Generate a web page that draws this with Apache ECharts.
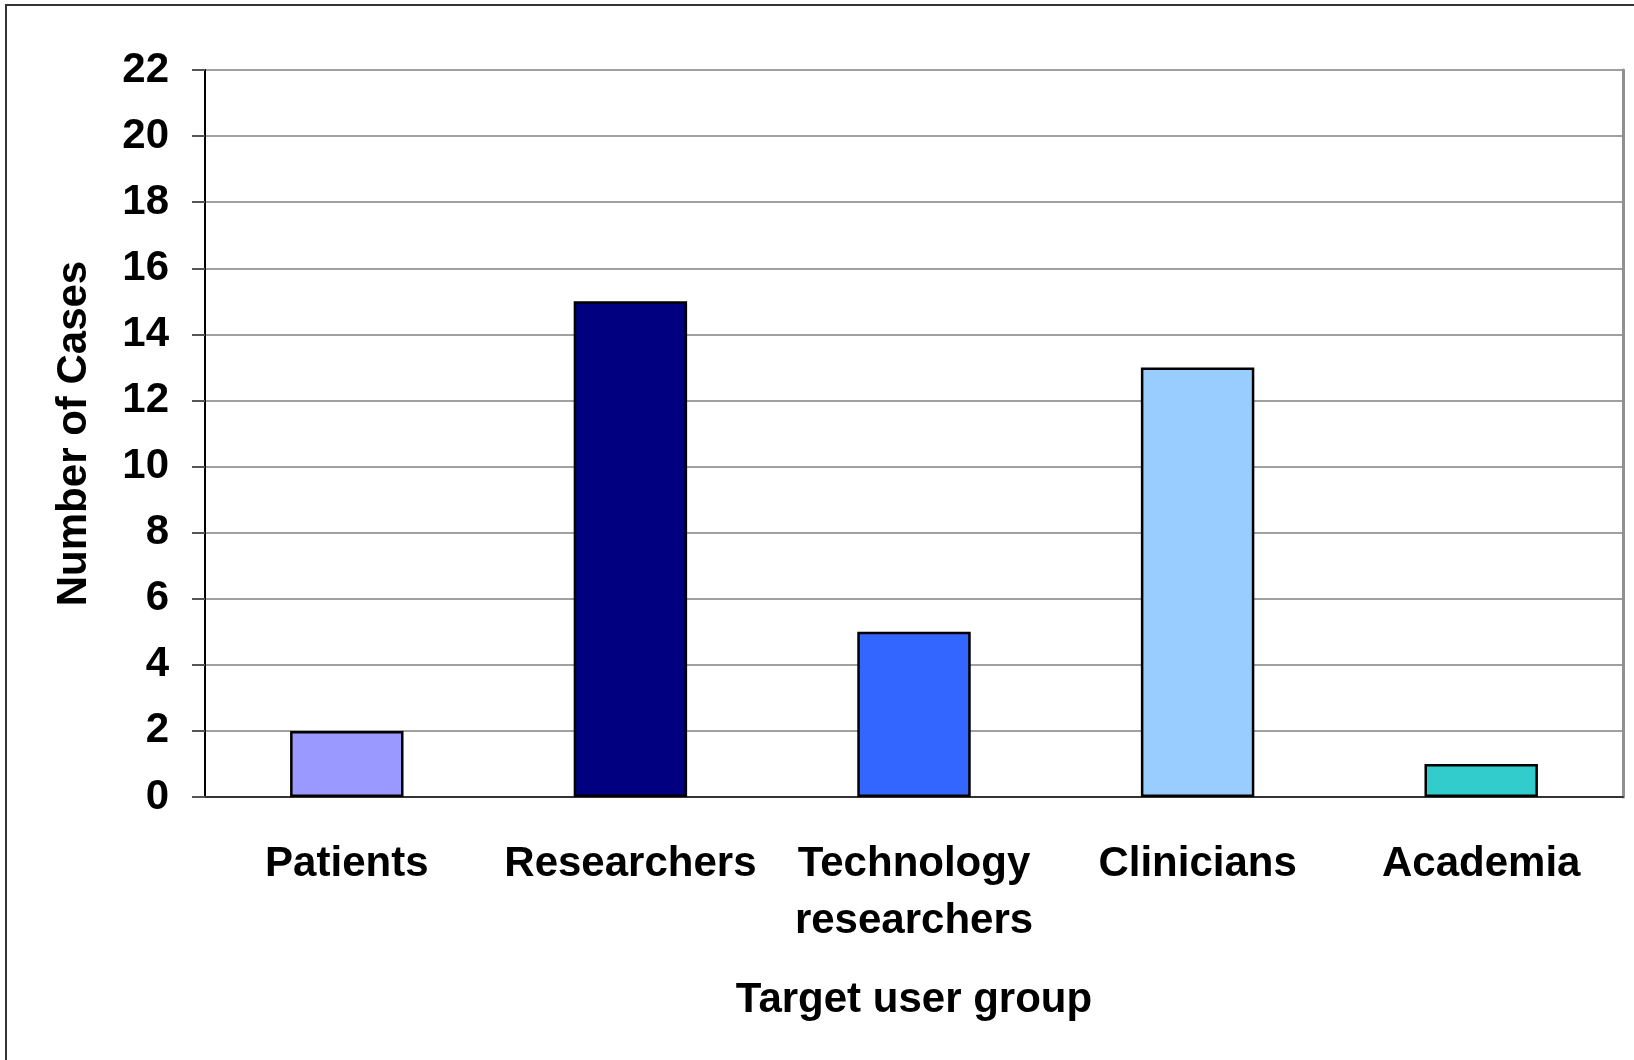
<!DOCTYPE html>
<html>
<head>
<meta charset="utf-8">
<script src="https://cdn.jsdelivr.net/npm/echarts@6/dist/echarts.min.js"></script>
<style>
  html, body { margin: 0; padding: 0; background: #ffffff; }
  #chart { width: 1634px; height: 1060px; }
</style>
</head>
<body>
<div id="chart"></div>
<script>
// data
const categories = ['Patients', 'Researchers', 'Technology\nresearchers', 'Clinicians', 'Academia'];
const cases = [2, 15, 5, 13, 1];
const barColors = ['#9999FF', '#000080', '#3366FF', '#99CCFF', '#33CCCC'];
const yTicks = { min: 0, max: 22, interval: 2 };

const chart = echarts.init(document.getElementById('chart'));
const font = '"Liberation Sans", Arial, sans-serif';

const option = {
    backgroundColor: '#ffffff',
    animation: false,
    graphic: [{
        type: 'rect',
        shape: { x: 6, y: 5, width: 1700, height: 1100 },
        style: { fill: 'none', stroke: '#333333', lineWidth: 2 },
        silent: true
    }],
    grid: {
        left: 205,
        right: 11,
        top: 70,
        bottom: 263
    },
    xAxis: {
        type: 'category',
        data: categories,
        name: 'Target user group',
        nameLocation: 'middle',
        nameGap: 182,
        nameTextStyle: { color: '#000', fontFamily: font, fontWeight: 'bold', fontSize: 42 },
        axisLine: { lineStyle: { color: '#333333', width: 2 } },
        axisTick: { length: 13, lineStyle: { color: '#808080', width: 2 } },
        axisLabel: {
            color: '#000', fontFamily: font, fontWeight: 'bold', fontSize: 42,
            lineHeight: 57, margin: 39, interval: 0
        }
    },
    yAxis: [{
        type: 'value',
        min: yTicks.min,
        max: yTicks.max,
        interval: yTicks.interval,
        name: 'Number of Cases',
        nameLocation: 'middle',
        nameGap: 110,
        nameTextStyle: { color: '#000', fontFamily: font, fontWeight: 'bold', fontSize: 42 },
        axisLine: { show: true, lineStyle: { color: '#000', width: 2 } },
        axisTick: { show: true, length: 13, lineStyle: { color: '#555555', width: 2 } },
        axisLabel: { color: '#000', fontFamily: font, fontWeight: 'bold', fontSize: 42, margin: 36 },
        splitLine: { lineStyle: { color: '#808080', width: 1.5 } }
    }, {
        type: 'value',
        position: 'right',
        min: yTicks.min,
        max: yTicks.max,
        interval: yTicks.interval,
        axisLine: { show: true, lineStyle: { color: '#909090', width: 3 } },
        axisTick: { show: false },
        axisLabel: { show: false },
        splitLine: { show: false }
    }],
    series: [{
        type: 'bar',
        barWidth: '40%',
        data: cases.map((v, i) => ({
            value: v,
            itemStyle: { color: barColors[i] }
        })),
        itemStyle: { borderColor: '#000', borderWidth: 2.5 }
    }]
};

chart.setOption(option);
</script>
</body>
</html>
